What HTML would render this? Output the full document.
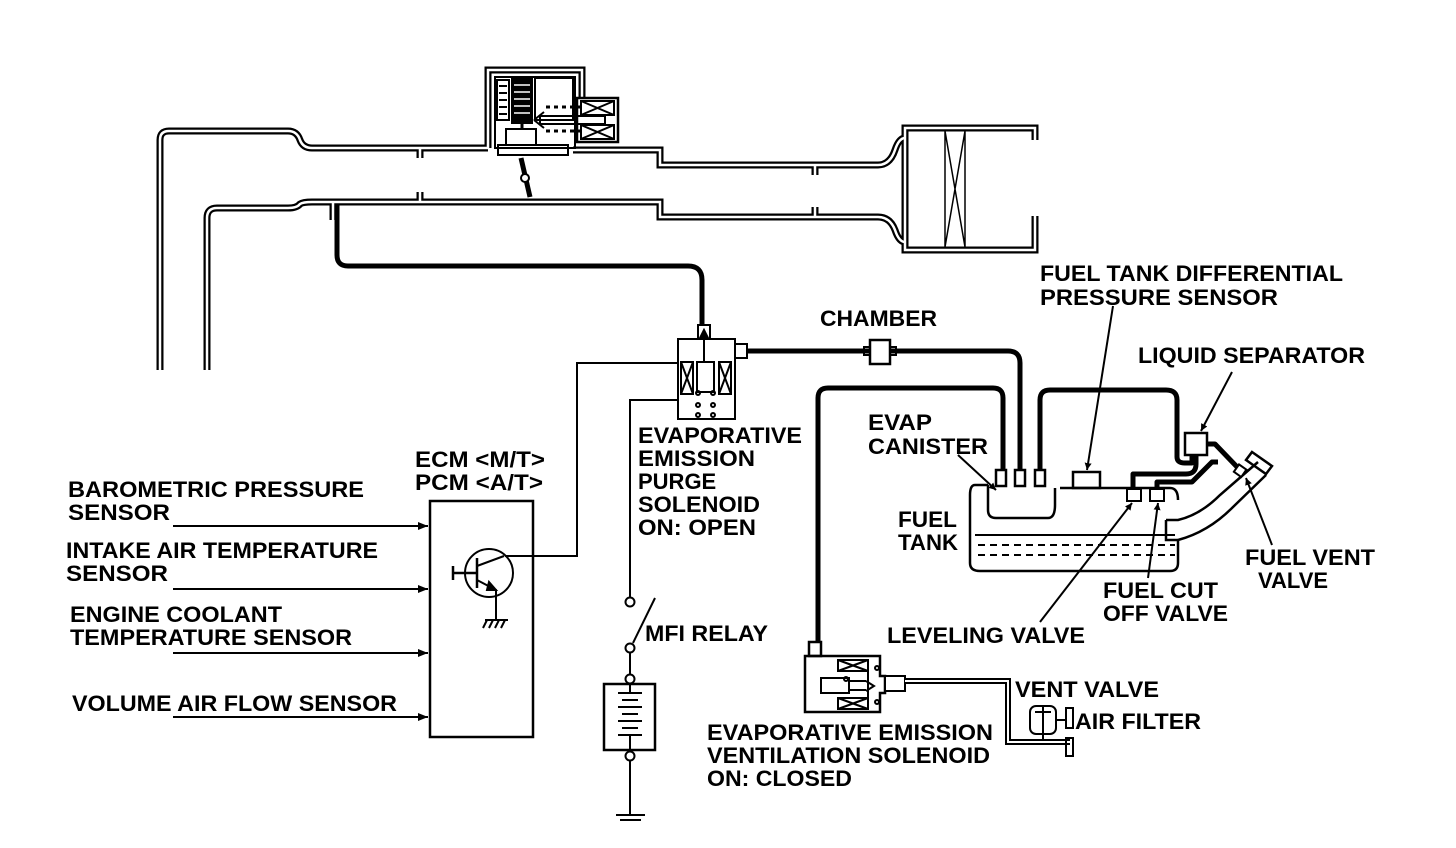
<!DOCTYPE html>
<html><head><meta charset="utf-8"><style>
html,body{margin:0;padding:0;background:#fff;}
svg{display:block;}
text{font-family:"Liberation Sans",sans-serif;font-weight:bold;font-size:22px;fill:#000;}
</style></head><body>
<svg width="1456" height="848" viewBox="0 0 1456 848" xmlns="http://www.w3.org/2000/svg">
<defs>
<marker id="ar" viewBox="0 0 10 10" refX="10" refY="5" markerWidth="7" markerHeight="7" orient="auto" markerUnits="userSpaceOnUse"><path d="M0,0 L10,5 L0,10 z"/></marker>
<marker id="ab" viewBox="0 0 10 10" refX="10" refY="5" markerWidth="16" markerHeight="10" orient="auto" markerUnits="userSpaceOnUse"><path d="M0,1 L10,5 L0,9 z"/></marker>
</defs>
<g fill="none" stroke-linejoin="round">
<g id="duct">
<path d="M160 370 L160 140 Q160 131 169 131 L288 131 Q297 131 300 140 Q303 148 312 148 L488 148"/>
<path d="M573 150 L660 150 L660 165 L878 165 Q890 165 895 150 Q899 138 905 138"/>
<path d="M207 370 L207 218 Q207 208 217 208 L288 208 Q297 208 300 204 Q303 202 312 202 L660 202 L660 217 L878 217 Q890 217 895 230 Q899 242 905 242"/>
<path d="M1035 140 L1035 128 L905 128 L905 250 L1035 250 L1035 216"/>
<path d="M488 148 L488 70 L582 70 L582 98"/>
<path d="M420 148 L420 158 M420 202 L420 192 M815 165 L815 175 M815 217 L815 207 M333 202 L333 220"/>
</g>
</g>
<use href="#duct" stroke="#000" stroke-width="7" fill="none"/>
<use href="#duct" stroke="#fff" stroke-width="2.5" fill="none"/>
<g fill="none" stroke="#000" stroke-width="2">
<rect x="495" y="77" width="80" height="71"/>
<rect x="497" y="80" width="12" height="40"/>
<path d="M499 86h8M499 93h8M499 100h8M499 107h8M499 114h8"/>
<rect x="512" y="78" width="20" height="45" fill="#000"/>
<path d="M514 85h16M514 92h16M514 99h16M514 106h16M514 113h16" stroke="#fff" stroke-width="1.5"/>
<rect x="535" y="78" width="38" height="42"/>
<path d="M522 123 L522 130" stroke-width="3"/>
<rect x="506" y="129" width="30" height="16"/>
<rect x="498" y="145" width="70" height="10"/>
<rect x="577" y="98" width="41" height="44" stroke-width="2.5"/>
<rect x="581" y="101" width="33" height="14"/><path d="M581 101 L614 115 M614 101 L581 115"/>
<rect x="581" y="125" width="33" height="14"/><path d="M581 125 L614 139 M614 125 L581 139"/>
<path d="M540 116 L605 116 L605 124 L540 124 Z"/>
<path d="M534 120 L544 112 M534 120 L544 128"/>
<path d="M546 107h36M546 131h36" stroke-dasharray="4 4" stroke-width="3"/>
<path d="M521 158 L530 197" stroke-width="5"/>
<circle cx="525" cy="178" r="4" fill="#fff"/>
<path d="M945 131 L945 247 M965 131 L965 247 M945 131 L965 247 M965 131 L945 247" stroke-width="1.5"/>
</g>
<g fill="none" stroke="#000" stroke-width="5" stroke-linejoin="round">
<path d="M337 205 L337 255 Q337 266 348 266 L688 266 Q702 266 702 280 L702 326"/>
<path d="M748 351 L870 351 M890 351 L1008 351 Q1020 351 1020 363 L1020 474"/>
<path d="M818 642 L818 398 Q818 388 828 388 L993 388 Q1003 388 1003 398 L1003 474"/>
<path d="M1040 474 L1040 400 Q1040 390 1050 390 L1166 390 Q1177 390 1177 400 L1177 457 Q1177 463 1185 463 L1192 463 L1192 455"/>
<path d="M1133 490 L1133 474 L1186 474 Q1196 474 1196 464 L1196 456"/>
<path d="M1157 490 L1157 482 L1192 482 L1212 462 L1218 462"/>
<path d="M1207 444 L1215 444 L1240 470"/>
</g>
<g fill="none" stroke="#000" stroke-width="2">
<rect x="698" y="325" width="12" height="14"/>
<path d="M704 330 L700 338 L708 338 Z" fill="#000"/>
<rect x="678" y="339" width="57" height="80" fill="#fff"/>
<rect x="735" y="344" width="12" height="14"/>
<path d="M704 339 L704 362"/>
<rect x="681" y="362" width="12" height="32"/><path d="M681 362 L693 394 M693 362 L681 394"/>
<rect x="719" y="362" width="12" height="32"/><path d="M719 362 L731 394 M731 362 L719 394"/>
<rect x="697" y="362" width="17" height="30"/>
<circle cx="698" cy="393" r="2"/><circle cx="713" cy="393" r="2"/>
<circle cx="698" cy="405" r="2"/><circle cx="713" cy="405" r="2"/>
<circle cx="698" cy="415" r="2"/><circle cx="713" cy="415" r="2"/>
<rect x="870" y="340" width="20" height="24" stroke-width="2.5" fill="#fff"/>
<rect x="864" y="347" width="6" height="8"/><rect x="890" y="347" width="6" height="8"/>
<path d="M505 556 L577 556 L577 363 L678 363"/>
<path d="M678 400 L630 400 L630 597"/>
<circle cx="630" cy="602" r="4.5"/>
<path d="M633 643 L655 598"/>
<circle cx="630" cy="648" r="4.5"/>
<path d="M630 653 L630 674"/>
<circle cx="630" cy="679" r="4.5"/>
<rect x="604" y="684" width="51" height="66" stroke-width="2.5"/>
<path d="M618 693h24M622 700h16M618 707h24M622 714h16M618 721h24M622 728h16M618 735h24" stroke-width="2"/>
<path d="M630 684 L630 692 M630 736 L630 750"/>
<circle cx="630" cy="756" r="4.5"/>
<path d="M630 761 L630 815 M616 815 L645 815 M620 820 L641 820"/>
<rect x="430" y="501" width="103" height="236" stroke-width="2.5"/>
<circle cx="489" cy="573" r="24"/>
<path d="M453 573 L477 573 M453 566 L453 580 M477 558 L477 588" stroke-width="2.5"/>
<path d="M477 566 L504 556 M477 580 L496 590 L496 620" />
<path d="M496 590 L489 582 L487 590 Z" fill="#000"/>
<path d="M485 620 L508 620 M487 620 L483 628 M493 620 L489 628 M499 620 L495 628 M505 620 L501 628"/>
<path d="M173 526 L428 526" marker-end="url(#ab)"/>
<path d="M173 589 L428 589" marker-end="url(#ab)"/>
<path d="M173 653 L428 653" marker-end="url(#ab)"/>
<path d="M173 717 L428 717" marker-end="url(#ab)"/>
<path d="M988 485 L975 485 Q970 485 970 495 L970 563 Q970 571 980 571 L1170 571 Q1178 571 1178 563 L1178 540 M1178 500 Q1178 488 1170 488 L1060 488" stroke-width="2.5"/>
<path d="M988 485 L988 510 Q988 518 996 518 L1048 518 Q1055 518 1055 505 L1055 488" stroke-width="2.5"/>
<rect x="996" y="470" width="10" height="16" fill="#fff" stroke-width="2.5"/>
<rect x="1015" y="470" width="10" height="16" fill="#fff" stroke-width="2.5"/>
<rect x="1035" y="470" width="10" height="16" fill="#fff" stroke-width="2.5"/>
<rect x="1073" y="472" width="27" height="16" stroke-width="2.5"/>
<rect x="1127" y="489" width="14" height="12" fill="#fff"/>
<rect x="1150" y="489" width="14" height="12" fill="#fff"/>
<path d="M975 535 L1175 535" stroke-width="2"/>
<path d="M978 545 L1175 545 M978 555 L1175 555" stroke-dasharray="7 5"/>
<path d="M1166 520 L1178 520 Q1200 515 1220 495 L1258 462" stroke-width="2.5"/>
<path d="M1178 540 Q1208 532 1232 508 L1266 475" stroke-width="2.5"/>
<path d="M1166 520 L1166 540 L1178 540" stroke-width="2.5"/>
<path d="M1252 452 L1272 466 L1266 474 L1246 460 Z" stroke-width="2.5"/>
<rect x="1236" y="466" width="9" height="9" transform="rotate(35 1240 470)" fill="#fff"/>
<rect x="1185" y="433" width="22" height="22" fill="#fff" stroke-width="2.5"/>
<path d="M1113 306 L1087 470" marker-end="url(#ar)"/>
<path d="M1232 372 L1201 431" marker-end="url(#ar)"/>
<path d="M958 455 L996 490" marker-end="url(#ar)"/>
<path d="M1272 545 L1246 478" marker-end="url(#ar)"/>
<path d="M1148 578 L1158 503" marker-end="url(#ar)"/>
<path d="M1040 622 L1132 503" marker-end="url(#ar)"/>
<rect x="809" y="642" width="12" height="14" stroke-width="2.5"/>
<path d="M805 656 L805 712 L880 712 L880 693 L885 693 L885 676 L880 676 L880 656 Z" stroke-width="2.5"/>
<rect x="885" y="676" width="20" height="15" fill="#fff"/>
<rect x="838" y="660" width="30" height="11"/><path d="M838 660 L868 671 M868 660 L838 671"/>
<rect x="838" y="698" width="30" height="11"/><path d="M838 698 L868 709 M868 698 L838 709"/>
<path d="M868 660 L868 709"/>
<rect x="821" y="678" width="28" height="15"/>
<path d="M849 681 L866 681 M849 690 L866 690 M866 681 L874 686 L866 691"/>
<circle cx="846" cy="679" r="2"/><circle cx="877" cy="668" r="2"/><circle cx="877" cy="702" r="2"/>
<path d="M905 681 L1008 681 L1008 742 L1070 742" stroke-width="6"/>
<path d="M905 681 L1008 681 L1008 742 L1070 742" stroke="#fff" stroke-width="2"/>
<rect x="1030" y="706" width="26" height="28" rx="6"/>
<path d="M1043 706 L1043 740 M1035 712 L1051 712"/>
<rect x="1066" y="708" width="7" height="20"/>
<rect x="1066" y="738" width="7" height="18"/>
<path d="M1056 720 L1066 720"/>
</g>
<text x="1040" y="281" textLength="303" lengthAdjust="spacingAndGlyphs">FUEL TANK DIFFERENTIAL</text>
<text x="1040" y="305" textLength="238" lengthAdjust="spacingAndGlyphs">PRESSURE SENSOR</text>
<text x="820" y="326" textLength="117" lengthAdjust="spacingAndGlyphs">CHAMBER</text>
<text x="1138" y="363" textLength="227" lengthAdjust="spacingAndGlyphs">LIQUID SEPARATOR</text>
<text x="868" y="430" textLength="64" lengthAdjust="spacingAndGlyphs">EVAP</text>
<text x="868" y="454" textLength="120" lengthAdjust="spacingAndGlyphs">CANISTER</text>
<text x="638" y="443" textLength="164" lengthAdjust="spacingAndGlyphs">EVAPORATIVE</text>
<text x="638" y="466" textLength="117" lengthAdjust="spacingAndGlyphs">EMISSION</text>
<text x="638" y="489">PURGE</text>
<text x="638" y="512" textLength="122" lengthAdjust="spacingAndGlyphs">SOLENOID</text>
<text x="638" y="535" textLength="118" lengthAdjust="spacingAndGlyphs">ON: OPEN</text>
<text x="415" y="467" textLength="130" lengthAdjust="spacingAndGlyphs">ECM &lt;M/T&gt;</text>
<text x="415" y="490" textLength="128" lengthAdjust="spacingAndGlyphs">PCM &lt;A/T&gt;</text>
<text x="68" y="497" textLength="296" lengthAdjust="spacingAndGlyphs">BAROMETRIC PRESSURE</text>
<text x="68" y="520" textLength="102" lengthAdjust="spacingAndGlyphs">SENSOR</text>
<text x="66" y="558" textLength="312" lengthAdjust="spacingAndGlyphs">INTAKE AIR TEMPERATURE</text>
<text x="66" y="581" textLength="102" lengthAdjust="spacingAndGlyphs">SENSOR</text>
<text x="70" y="622" textLength="212" lengthAdjust="spacingAndGlyphs">ENGINE COOLANT</text>
<text x="70" y="645" textLength="282" lengthAdjust="spacingAndGlyphs">TEMPERATURE SENSOR</text>
<text x="72" y="711" textLength="325" lengthAdjust="spacingAndGlyphs">VOLUME AIR FLOW SENSOR</text>
<text x="898" y="527" textLength="59" lengthAdjust="spacingAndGlyphs">FUEL</text>
<text x="898" y="550" textLength="60" lengthAdjust="spacingAndGlyphs">TANK</text>
<text x="1245" y="565" textLength="130" lengthAdjust="spacingAndGlyphs">FUEL VENT</text>
<text x="1258" y="588">VALVE</text>
<text x="1103" y="598" textLength="115" lengthAdjust="spacingAndGlyphs">FUEL CUT</text>
<text x="1103" y="621" textLength="125" lengthAdjust="spacingAndGlyphs">OFF VALVE</text>
<text x="887" y="643" textLength="198" lengthAdjust="spacingAndGlyphs">LEVELING VALVE</text>
<text x="645" y="641" textLength="123" lengthAdjust="spacingAndGlyphs">MFI RELAY</text>
<text x="1015" y="697" textLength="144" lengthAdjust="spacingAndGlyphs">VENT VALVE</text>
<text x="1075" y="729" textLength="126" lengthAdjust="spacingAndGlyphs">AIR FILTER</text>
<text x="707" y="740" textLength="286" lengthAdjust="spacingAndGlyphs">EVAPORATIVE EMISSION</text>
<text x="707" y="763" textLength="283" lengthAdjust="spacingAndGlyphs">VENTILATION SOLENOID</text>
<text x="707" y="786" textLength="145" lengthAdjust="spacingAndGlyphs">ON: CLOSED</text>
</svg>
</body></html>
